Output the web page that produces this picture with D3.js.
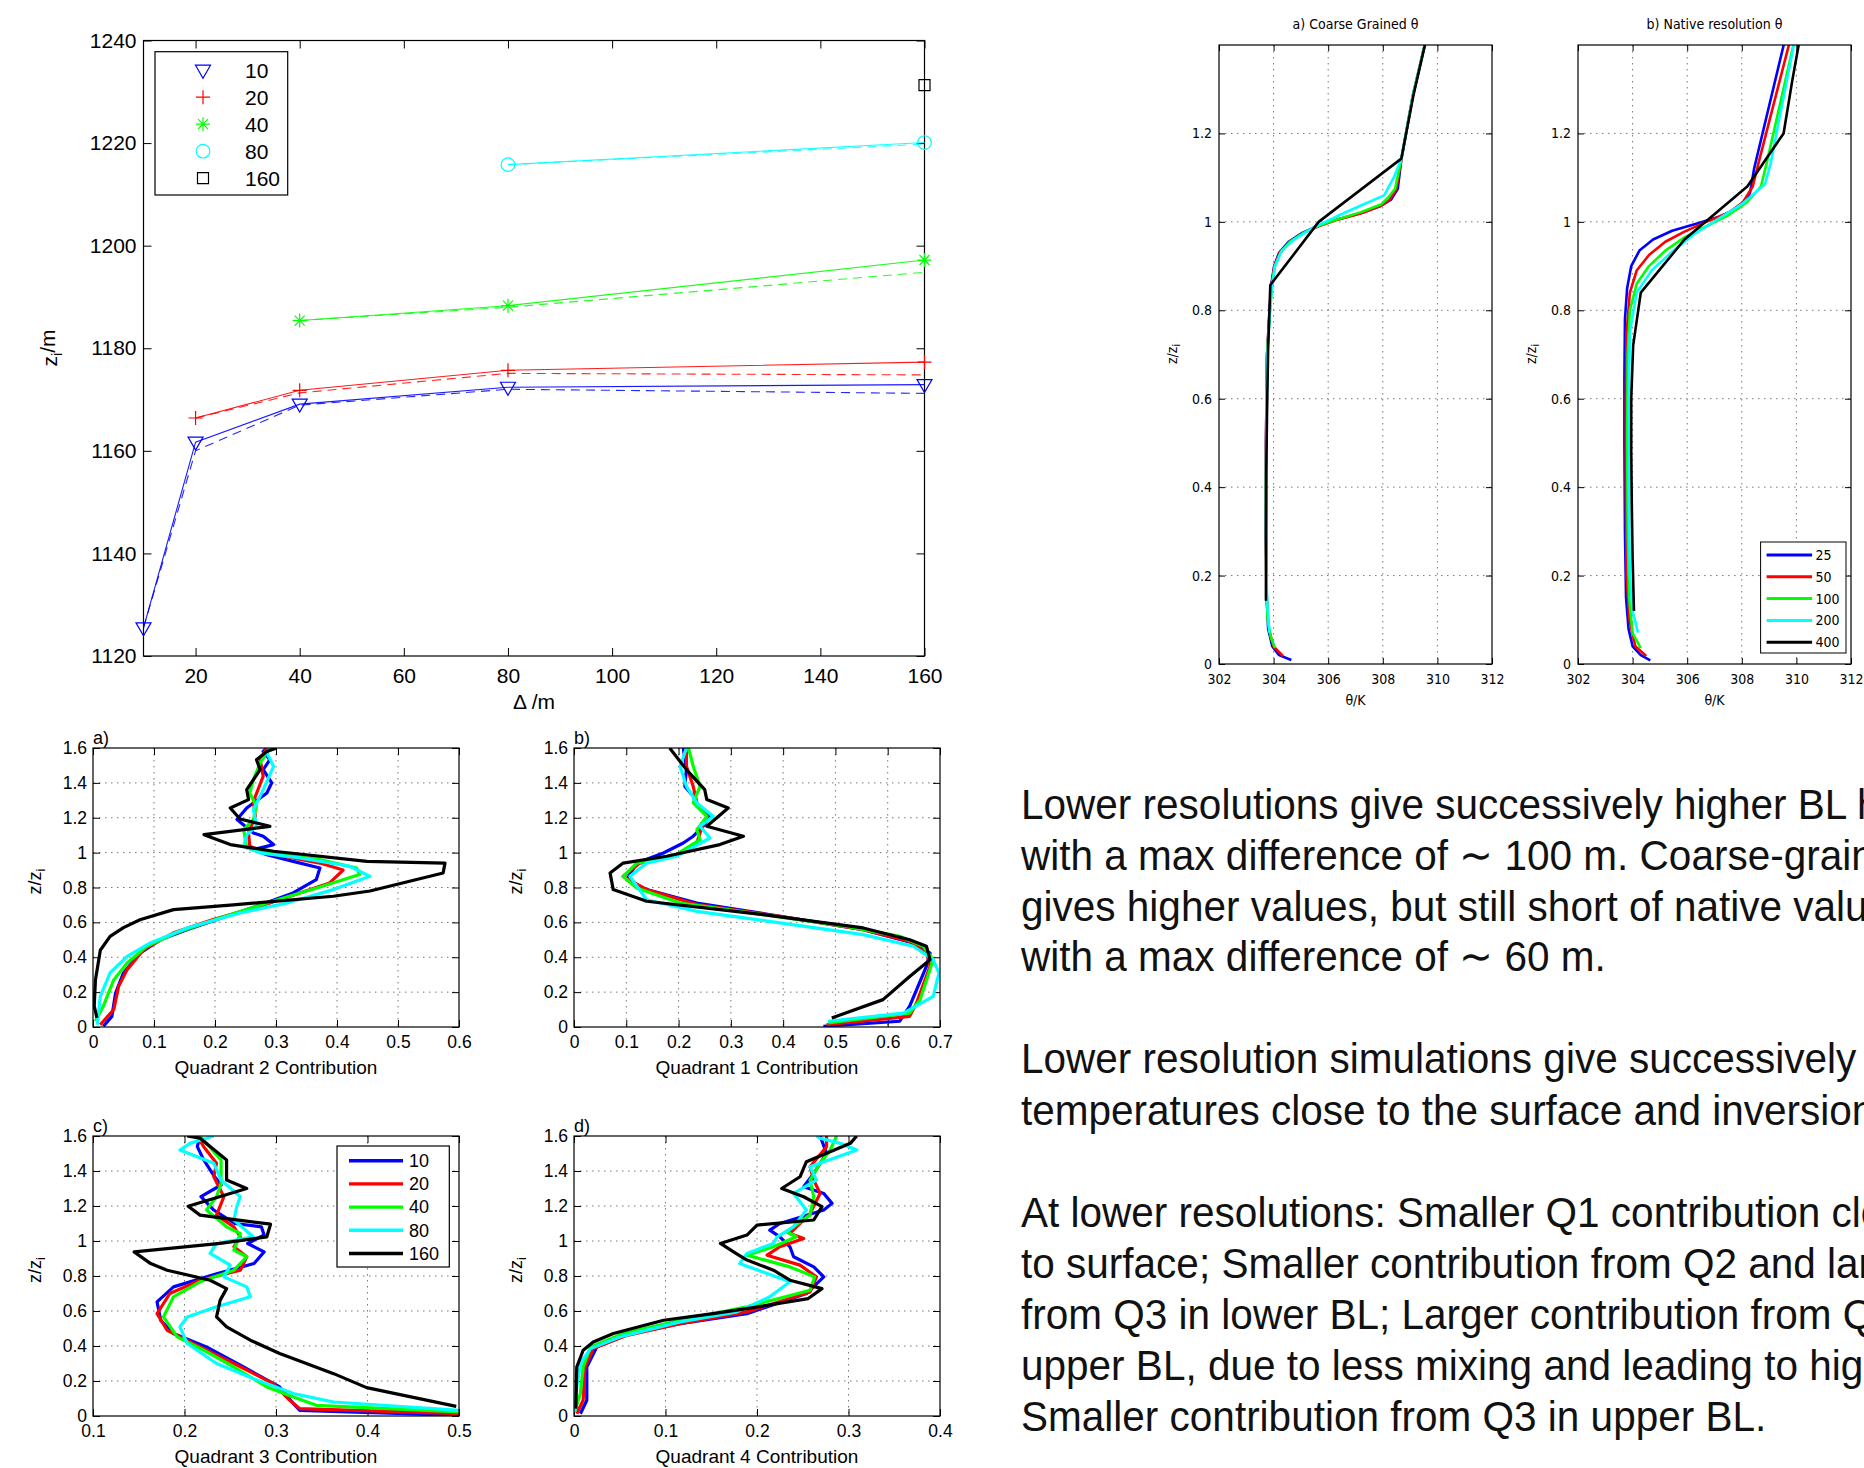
<!DOCTYPE html>
<html>
<head>
<meta charset="utf-8">
<script src="https://cdn.jsdelivr.net/npm/d3@7"></script>
<style>
  body { margin: 0; background: #fff; overflow: hidden; }
  svg { display: block; }
</style>
</head>
<body>
<script>
// ---------- data: BL height vs grid spacing (top left) ----------
const deltaTicks = [20, 40, 60, 80, 100, 120, 140, 160];
const ziTicks = [1120, 1140, 1160, 1180, 1200, 1220, 1240];
const runNames = ["10", "20", "40", "80", "160"];
const runColors = ["#0000ff", "#ff0000", "#00ff00", "#00ffff", "#000000"];
const runDeltas = [[10, 20, 40, 80, 160], [20, 40, 80, 160], [40, 80, 160], [80, 160], [160]];
const ziSolid = [
  [1125.5, 1161.7, 1169.1, 1172.4, 1172.9],
  [1166.4, 1171.8, 1175.7, 1177.3],
  [1185.4, 1188.3, 1197.2],
  [1215.8, 1220.1],
  [1231.3]
];
const ziDashed = [
  [1125.5, 1160.0, 1168.9, 1172.0, 1171.2],
  [1166.4, 1171.3, 1175.1, 1174.8],
  [1185.4, 1188.0, 1194.8],
  [1215.8, 1219.8],
  [1231.3]
];

// ---------- data: theta profiles (top right), [theta, z/zi] ----------
const thetaTicks = [302, 304, 306, 308, 310, 312];
const zTicksTheta = [0, 0.2, 0.4, 0.6, 0.8, 1, 1.2];
const thetaNames = ["25", "50", "100", "200", "400"];
const cg25 = [[304.65,0.009],[304.2,0.02],[303.95,0.04],[303.8,0.08],[303.75,0.15],[303.72,0.3],[303.72,0.5],[303.76,0.7],[303.85,0.8],[303.92,0.86],[304.02,0.9],[304.2,0.93],[304.55,0.955],[305.05,0.975],[305.6,0.99],[306.3,1.005],[307.2,1.02],[307.9,1.035],[308.3,1.05],[308.55,1.075],[308.68,1.142],[309.1,1.285],[309.65,1.43]];
const cg50 = [[304.35,0.018],[304.0,0.04],[303.82,0.08],[303.74,0.15],[303.72,0.3],[303.72,0.5],[303.76,0.7],[303.86,0.8],[303.93,0.86],[304.03,0.9],[304.22,0.93],[304.58,0.955],[305.1,0.975],[305.65,0.99],[306.35,1.005],[307.25,1.02],[307.95,1.037],[308.25,1.05],[308.5,1.075],[308.68,1.142],[309.1,1.285],[309.65,1.43]];
const cg100 = [[304.05,0.036],[303.9,0.06],[303.78,0.1],[303.73,0.2],[303.72,0.4],[303.74,0.6],[303.78,0.72],[303.87,0.8],[303.95,0.86],[304.05,0.9],[304.25,0.93],[304.6,0.955],[305.1,0.975],[305.6,0.99],[306.3,1.005],[307.2,1.022],[307.95,1.04],[308.2,1.055],[308.45,1.075],[308.68,1.142],[309.1,1.285],[309.65,1.43]];
const cg200 = [[303.85,0.071],[303.76,0.14],[303.72,0.3],[303.73,0.5],[303.77,0.7],[303.87,0.8],[303.95,0.86],[304.05,0.9],[304.3,0.935],[304.75,0.96],[305.4,0.985],[306.3,1.012],[307.2,1.037],[308.05,1.06],[308.4,1.1],[308.68,1.142],[309.1,1.285],[309.65,1.43]];
const cg400 = [[303.72,0.143],[303.72,0.286],[303.73,0.429],[303.76,0.571],[303.8,0.714],[303.88,0.857],[305.65,1.0],[308.68,1.143],[309.12,1.286],[309.65,1.429]];
const nat25 = [[304.65,0.008],[304.3,0.02],[304.0,0.04],[303.85,0.08],[303.76,0.15],[303.72,0.3],[303.7,0.5],[303.7,0.65],[303.72,0.78],[303.8,0.85],[303.95,0.9],[304.25,0.935],[304.75,0.96],[305.45,0.98],[306.3,0.995],[307.2,1.012],[307.9,1.032],[308.3,1.065],[308.45,1.12],[309.65,1.43]];
const nat50 = [[304.5,0.018],[304.1,0.04],[303.88,0.1],[303.78,0.2],[303.75,0.4],[303.75,0.6],[303.78,0.75],[303.9,0.84],[304.15,0.89],[304.6,0.925],[305.2,0.955],[305.9,0.978],[306.7,1.0],[307.5,1.02],[308.05,1.045],[308.4,1.08],[308.6,1.13],[309.85,1.43]];
const nat100 = [[304.3,0.036],[304.0,0.07],[303.87,0.15],[303.82,0.3],[303.8,0.5],[303.82,0.7],[303.9,0.8],[304.15,0.86],[304.6,0.9],[305.2,0.935],[305.9,0.965],[306.7,0.99],[307.5,1.015],[308.2,1.045],[308.7,1.08],[308.9,1.13],[310.0,1.43]];
const nat200 = [[304.2,0.071],[304.0,0.12],[303.9,0.2],[303.86,0.4],[303.86,0.6],[303.9,0.75],[304.15,0.84],[304.7,0.89],[305.4,0.93],[306.2,0.97],[307.1,1.005],[308.0,1.04],[308.85,1.085],[309.05,1.13],[310.0,1.43]];
const nat400 = [[304.05,0.12],[304.0,0.24],[303.97,0.36],[303.95,0.48],[303.95,0.6],[304.02,0.72],[304.3,0.84],[305.9,0.96],[308.2,1.08],[309.53,1.2],[309.85,1.32],[310.2,1.44]];

// ---------- data: quadrant contributions, [value, z/zi] ----------
const zTicksQ = [0, 0.2, 0.4, 0.6, 0.8, 1, 1.2, 1.4, 1.6];
const q2Ticks = [0, 0.1, 0.2, 0.3, 0.4, 0.5, 0.6];
const q1Ticks = [0, 0.1, 0.2, 0.3, 0.4, 0.5, 0.6, 0.7];
const q3Ticks = [0.1, 0.2, 0.3, 0.4, 0.5];
const q4Ticks = [0, 0.1, 0.2, 0.3, 0.4];
const quadNames = ["10", "20", "40", "80", "160"];

const q2_10 = [[0.017,0.004],[0.031,0.061],[0.037,0.195],[0.05,0.31],[0.077,0.424],[0.11,0.5],[0.154,0.558],[0.219,0.635],[0.274,0.7],[0.328,0.769],[0.366,0.845],[0.372,0.912],[0.328,0.95],[0.285,0.988],[0.263,1.017],[0.296,1.046],[0.279,1.094],[0.263,1.113],[0.236,1.19],[0.252,1.256],[0.285,1.342],[0.293,1.4],[0.279,1.476],[0.29,1.533],[0.279,1.58],[0.285,1.6]];
const q2_20 = [[0.012,0.013],[0.034,0.1],[0.042,0.233],[0.056,0.329],[0.083,0.444],[0.132,0.54],[0.197,0.616],[0.274,0.692],[0.339,0.769],[0.388,0.826],[0.41,0.9],[0.372,0.94],[0.285,0.998],[0.257,1.036],[0.255,1.113],[0.266,1.208],[0.263,1.294],[0.279,1.438],[0.274,1.533],[0.285,1.6]];
const q2_40 = [[0.004,0.033],[0.017,0.12],[0.034,0.27],[0.056,0.367],[0.088,0.463],[0.137,0.54],[0.208,0.625],[0.285,0.711],[0.367,0.797],[0.437,0.874],[0.432,0.912],[0.372,0.96],[0.285,0.998],[0.252,1.027],[0.247,1.132],[0.263,1.19],[0.268,1.266],[0.257,1.342],[0.263,1.419],[0.274,1.514],[0.29,1.6]];
const q2_80 = [[0.007,0.013],[0.012,0.176],[0.028,0.31],[0.056,0.405],[0.094,0.482],[0.154,0.568],[0.241,0.654],[0.318,0.711],[0.394,0.788],[0.454,0.864],[0.421,0.922],[0.339,0.97],[0.274,0.998],[0.247,1.036],[0.252,1.103],[0.268,1.151],[0.263,1.247],[0.279,1.361],[0.296,1.495],[0.285,1.572],[0.29,1.6]];
const q2_160 = [[0.0065,0.052],[0.002,0.12],[0.004,0.27],[0.012,0.44],[0.028,0.52],[0.05,0.57],[0.077,0.615],[0.132,0.673],[0.23,0.7],[0.394,0.75],[0.454,0.78],[0.574,0.883],[0.577,0.94],[0.449,0.95],[0.296,1.008],[0.225,1.046],[0.182,1.103],[0.29,1.151],[0.241,1.193],[0.225,1.256],[0.255,1.304],[0.252,1.361],[0.274,1.476],[0.268,1.533],[0.285,1.58],[0.301,1.6]];

const q1_10 = [[0.477,0.004],[0.623,0.033],[0.642,0.12],[0.674,0.348],[0.681,0.424],[0.649,0.482],[0.553,0.558],[0.394,0.635],[0.235,0.711],[0.139,0.788],[0.101,0.845],[0.12,0.94],[0.171,0.998],[0.209,1.055],[0.228,1.094],[0.247,1.151],[0.26,1.208],[0.235,1.266],[0.228,1.323],[0.212,1.38],[0.215,1.476],[0.209,1.6]];
const q1_20 = [[0.483,0.013],[0.642,0.061],[0.655,0.138],[0.681,0.348],[0.674,0.424],[0.642,0.491],[0.553,0.558],[0.394,0.635],[0.235,0.702],[0.139,0.788],[0.094,0.864],[0.126,0.94],[0.19,0.979],[0.235,1.055],[0.241,1.113],[0.254,1.208],[0.235,1.285],[0.228,1.38],[0.215,1.495],[0.215,1.6]];
const q1_40 = [[0.486,0.023],[0.642,0.08],[0.662,0.157],[0.687,0.386],[0.668,0.463],[0.623,0.52],[0.521,0.577],[0.362,0.644],[0.203,0.711],[0.12,0.797],[0.094,0.864],[0.12,0.94],[0.19,0.979],[0.241,1.074],[0.235,1.132],[0.254,1.208],[0.228,1.285],[0.241,1.38],[0.228,1.495],[0.219,1.6]];
const q1_80 = [[0.486,0.033],[0.63,0.08],[0.687,0.176],[0.698,0.31],[0.687,0.386],[0.649,0.463],[0.553,0.53],[0.394,0.597],[0.235,0.663],[0.139,0.73],[0.107,0.864],[0.139,0.94],[0.196,0.979],[0.26,1.084],[0.241,1.151],[0.266,1.208],[0.235,1.285],[0.215,1.38],[0.203,1.495],[0.215,1.6]];
const q1_160 = [[0.493,0.052],[0.591,0.157],[0.642,0.29],[0.681,0.386],[0.674,0.463],[0.642,0.5],[0.553,0.568],[0.362,0.644],[0.139,0.721],[0.075,0.788],[0.069,0.883],[0.094,0.94],[0.177,0.979],[0.279,1.046],[0.324,1.094],[0.254,1.151],[0.295,1.256],[0.254,1.304],[0.25,1.361],[0.215,1.476],[0.183,1.6]];

const q3_10 = [[0.5,0.004],[0.326,0.032],[0.319,0.071],[0.304,0.166],[0.261,0.29],[0.224,0.395],[0.188,0.471],[0.174,0.547],[0.17,0.652],[0.188,0.738],[0.236,0.814],[0.276,0.871],[0.287,0.938],[0.269,0.986],[0.287,1.034],[0.284,1.081],[0.255,1.1],[0.232,1.177],[0.218,1.253],[0.24,1.32],[0.233,1.367],[0.221,1.463],[0.214,1.539],[0.217,1.6]];
const q3_20 = [[0.5,0.013],[0.326,0.042],[0.315,0.09],[0.297,0.185],[0.254,0.3],[0.217,0.395],[0.181,0.49],[0.17,0.585],[0.184,0.7],[0.217,0.776],[0.261,0.833],[0.268,0.91],[0.254,0.967],[0.261,1.024],[0.254,1.081],[0.235,1.148],[0.243,1.253],[0.232,1.367],[0.235,1.444],[0.221,1.539],[0.214,1.6]];
const q3_40 = [[0.5,0.023],[0.344,0.061],[0.319,0.109],[0.29,0.166],[0.254,0.28],[0.221,0.376],[0.192,0.452],[0.177,0.566],[0.188,0.681],[0.217,0.767],[0.254,0.833],[0.268,0.91],[0.254,0.948],[0.261,1.043],[0.246,1.081],[0.224,1.177],[0.235,1.253],[0.24,1.329],[0.24,1.463],[0.224,1.558],[0.217,1.6]];
const q3_80 = [[0.5,0.032],[0.363,0.08],[0.319,0.128],[0.275,0.214],[0.235,0.3],[0.203,0.414],[0.195,0.509],[0.203,0.566],[0.235,0.624],[0.272,0.681],[0.268,0.738],[0.243,0.795],[0.25,0.862],[0.228,0.929],[0.235,0.986],[0.275,1.024],[0.254,1.12],[0.257,1.196],[0.261,1.253],[0.24,1.348],[0.232,1.444],[0.195,1.52],[0.206,1.558],[0.224,1.587],[0.232,1.6]];
const q3_160 = [[0.497,0.055],[0.399,0.162],[0.363,0.242],[0.304,0.357],[0.272,0.433],[0.246,0.509],[0.235,0.566],[0.239,0.662],[0.246,0.728],[0.228,0.776],[0.181,0.833],[0.163,0.871],[0.145,0.938],[0.239,0.986],[0.29,1.024],[0.294,1.096],[0.217,1.148],[0.204,1.199],[0.268,1.3],[0.246,1.348],[0.246,1.463],[0.217,1.587],[0.203,1.6]];

const q4_10 = [[0.007,0.013],[0.014,0.09],[0.014,0.28],[0.025,0.395],[0.061,0.471],[0.116,0.528],[0.189,0.585],[0.254,0.7],[0.273,0.795],[0.262,0.852],[0.24,0.91],[0.236,0.967],[0.225,1.024],[0.214,1.062],[0.225,1.1],[0.273,1.177],[0.282,1.215],[0.273,1.272],[0.251,1.31],[0.262,1.386],[0.276,1.501],[0.269,1.6]];
const q4_20 = [[0.003,0.013],[0.01,0.09],[0.012,0.28],[0.021,0.385],[0.058,0.461],[0.116,0.528],[0.189,0.595],[0.258,0.709],[0.265,0.795],[0.247,0.862],[0.211,0.919],[0.225,0.967],[0.251,1.014],[0.236,1.043],[0.258,1.157],[0.269,1.272],[0.262,1.348],[0.258,1.424],[0.276,1.539],[0.276,1.6]];
const q4_40 = [[0.001,0.032],[0.007,0.128],[0.01,0.28],[0.018,0.395],[0.054,0.471],[0.116,0.547],[0.189,0.624],[0.258,0.719],[0.263,0.795],[0.236,0.852],[0.189,0.919],[0.218,0.967],[0.243,1.024],[0.232,1.053],[0.258,1.148],[0.262,1.253],[0.258,1.348],[0.269,1.444],[0.28,1.52],[0.287,1.6]];
const q4_80 = [[0.001,0.023],[0.003,0.166],[0.007,0.3],[0.018,0.385],[0.05,0.452],[0.116,0.538],[0.178,0.595],[0.214,0.681],[0.236,0.767],[0.181,0.871],[0.189,0.929],[0.218,0.986],[0.222,1.024],[0.24,1.081],[0.254,1.177],[0.24,1.272],[0.265,1.348],[0.258,1.424],[0.309,1.52],[0.291,1.558],[0.269,1.587],[0.265,1.6]];
const q4_160 = [[0.002,0.042],[0.003,0.28],[0.01,0.376],[0.021,0.423],[0.043,0.471],[0.098,0.547],[0.152,0.585],[0.189,0.614],[0.256,0.671],[0.271,0.728],[0.236,0.776],[0.218,0.833],[0.189,0.891],[0.177,0.929],[0.16,0.986],[0.189,1.034],[0.2,1.091],[0.262,1.12],[0.271,1.196],[0.251,1.253],[0.227,1.3],[0.247,1.367],[0.254,1.453],[0.302,1.558],[0.309,1.6]];

const noteLines = [
  "Lower resolutions give successively higher BL heights",
  "with a max difference of \u223C 100 m. Coarse-graining",
  "gives higher values, but still short of native values",
  "with a max difference of \u223C 60 m.",
  "Lower resolution simulations give successively higher",
  "temperatures close to the surface and inversion.",
  "At lower resolutions: Smaller Q1 contribution close",
  "to surface; Smaller contribution from Q2 and larger",
  "from Q3 in lower BL; Larger contribution from Q4 in",
  "upper BL, due to less mixing and leading to higher \u03B8;",
  "Smaller contribution from Q3 in upper BL."
];

// ---------- drawing ----------
const W = 1864, H = 1468;
const svg = d3.select("body").append("svg").attr("width", W).attr("height", H);
const defs = svg.append("defs");
const SANS = "'Liberation Sans', Arial, sans-serif";
const NARROW = "'Liberation Sans Narrow', 'DejaVu Sans Condensed', 'Liberation Sans', sans-serif";
let clipCount = 0;

// MATLAB-like axes box: inward ticks on all four sides, optional dotted grid
function makePanel(box, xDom, yDom, opt) {
  const w = box.x1 - box.x0, h = box.y1 - box.y0;
  const g = svg.append("g").attr("transform", `translate(${box.x0},${box.y0})`);
  const x = d3.scaleLinear().domain(xDom).range([0, w]);
  const y = d3.scaleLinear().domain(yDom).range([h, 0]);
  const fmt = d3.format("~g");

  if (opt.grid) {
    g.selectAll(".gx").data(opt.xTicks.filter(d => x(d) > 1 && x(d) < w - 1)).join("line")
      .attr("x1", d => x(d)).attr("x2", d => x(d)).attr("y1", 0).attr("y2", h)
      .attr("stroke", "#777").attr("stroke-width", 1).attr("stroke-dasharray", "1.5,4.5");
    g.selectAll(".gy").data(opt.yTicks.filter(d => y(d) > 1 && y(d) < h - 1)).join("line")
      .attr("x1", 0).attr("x2", w).attr("y1", d => y(d)).attr("y2", d => y(d))
      .attr("stroke", "#777").attr("stroke-width", 1).attr("stroke-dasharray", "1.5,4.5");
  }

  const axes = [
    g.append("g").attr("transform", `translate(0,${h})`)
      .call(d3.axisBottom(x).tickValues(opt.xTicks).tickSize(-opt.tick).tickPadding(opt.xPad).tickFormat(fmt)),
    g.append("g").call(d3.axisTop(x).tickValues(opt.xTicks).tickSize(-opt.tick).tickFormat("")),
    g.append("g").call(d3.axisLeft(y).tickValues(opt.yTicks).tickSize(-opt.tick).tickPadding(opt.yPad).tickFormat(fmt)),
    g.append("g").attr("transform", `translate(${w},0)`)
      .call(d3.axisRight(y).tickValues(opt.yTicks).tickSize(-opt.tick).tickFormat(""))
  ];
  axes.forEach(a => {
    a.attr("font-size", opt.fontSize).attr("font-family", opt.font);
    a.select(".domain").remove();
    a.selectAll(".tick line").attr("stroke", "#000");
    a.selectAll(".tick text").attr("fill", "#000");
  });

  const id = "clip" + (clipCount++);
  defs.append("clipPath").attr("id", id).append("rect").attr("width", w).attr("height", h);
  const plot = g.append("g").attr("clip-path", `url(#${id})`);

  g.append("rect").attr("width", w).attr("height", h)
    .attr("fill", "none").attr("stroke", "#000").attr("stroke-width", 1.2);

  return { g, plot, x, y, w, h };
}

function drawProfiles(p, seriesList, colors, width) {
  const line = d3.line().x(d => p.x(d[0])).y(d => p.y(d[1]));
  seriesList.forEach((s, i) => {
    p.plot.append("path").datum(s).attr("d", line)
      .attr("fill", "none").attr("stroke", colors[i]).attr("stroke-width", width)
      .attr("stroke-linejoin", "round").attr("stroke-linecap", "butt");
  });
}

function zLabel(g, x, y, size, parts) {
  const t = g.append("text").attr("transform", `translate(${x},${y}) rotate(-90)`)
    .attr("text-anchor", "middle").attr("font-family", SANS).attr("font-size", size);
  t.append("tspan").text(parts[0]);
  t.append("tspan").attr("dy", "0.3em").attr("font-size", size * 0.72).text("i");
  if (parts[1]) t.append("tspan").attr("dy", "-0.3em").text(parts[1]);
  return t;
}

// marker shapes for the z_i plot
const markerPaths = [
  "M-7.5,-5L7.5,-5L0,8Z",
  "M-7,0H7M0,-7V7",
  "M-7,0H7M0,-7V7M-5,-5L5,5M-5,5L5,-5",
  null,
  "M-5.5,-5.5H5.5V5.5H-5.5Z"
];
function drawMarker(g, i, cx, cy) {
  if (i === 3) {
    g.append("circle").attr("cx", cx).attr("cy", cy).attr("r", 6.8)
      .attr("fill", "none").attr("stroke", runColors[i]).attr("stroke-width", 1.2);
  } else {
    g.append("path").attr("d", markerPaths[i]).attr("transform", `translate(${cx},${cy})`)
      .attr("fill", "none").attr("stroke", runColors[i]).attr("stroke-width", 1.2);
  }
}

// ---- top left: z_i vs Delta ----
const tl = makePanel({ x0: 143.5, x1: 924.5, y0: 40.5, y1: 656 }, [10, 160], [1120, 1240], {
  xTicks: deltaTicks, yTicks: ziTicks, tick: 8, xPad: 12, yPad: 7, fontSize: 21, font: SANS, grid: false
});
{
  const lineFor = i => d3.line().x((d, k) => tl.x(runDeltas[i][k])).y(d => tl.y(d));
  ziDashed.forEach((vals, i) => {
    if (vals.length < 2) return;
    tl.g.append("path").datum(vals).attr("d", lineFor(i)).attr("fill", "none")
      .attr("stroke", runColors[i]).attr("stroke-width", 1.1).attr("stroke-dasharray", "9,6").attr("opacity", 0.85);
  });
  ziSolid.forEach((vals, i) => {
    if (vals.length >= 2) {
      tl.g.append("path").datum(vals).attr("d", lineFor(i)).attr("fill", "none")
        .attr("stroke", runColors[i]).attr("stroke-width", 1.1).attr("opacity", 0.9);
    }
    vals.forEach((v, k) => drawMarker(tl.g, i, tl.x(runDeltas[i][k]), tl.y(v)));
  });
  // legend
  const lg = svg.append("g").attr("transform", "translate(155,51.7)");
  lg.append("rect").attr("width", 132.7).attr("height", 143.3).attr("fill", "#fff").attr("stroke", "#000").attr("stroke-width", 1.2);
  runNames.forEach((n, i) => {
    const cy = 18.5 + i * 27;
    drawMarker(lg, i, 48, cy);
    lg.append("text").attr("x", 90).attr("y", cy).attr("dy", "0.35em")
      .attr("font-family", SANS).attr("font-size", 21).text(n);
  });
  zLabel(svg, 57, 348, 21, ["z", "/m"]);
  svg.append("text").attr("x", 534).attr("y", 709).attr("text-anchor", "middle")
    .attr("font-family", SANS).attr("font-size", 21).text("\u0394 /m");
}

// ---- top right: theta profiles ----
const thetaColors = runColors;
const thetaOpt = { xTicks: thetaTicks, yTicks: zTicksTheta, tick: 6, xPad: 10, yPad: 7, fontSize: 14, font: NARROW, grid: true };
const ta = makePanel({ x0: 1219, x1: 1492, y0: 45, y1: 664 }, [302, 312], [0, 1.4], thetaOpt);
drawProfiles(ta, [cg25, cg50, cg100, cg200, cg400], thetaColors, 2.6);
const tb = makePanel({ x0: 1578, x1: 1851, y0: 45, y1: 664 }, [302, 312], [0, 1.4], thetaOpt);
drawProfiles(tb, [nat25, nat50, nat100, nat200, nat400], thetaColors, 2.6);
[[ta, "a) Coarse Grained \u03B8", 1177], [tb, "b) Native resolution \u03B8", 1536]].forEach(([p, title, lx]) => {
  p.g.append("text").attr("x", p.w / 2).attr("y", -16).attr("text-anchor", "middle")
    .attr("font-family", NARROW).attr("font-size", 14).text(title);
  p.g.append("text").attr("x", p.w / 2).attr("y", p.h + 41).attr("text-anchor", "middle")
    .attr("font-family", NARROW).attr("font-size", 14).text("\u03B8/K");
  zLabel(svg, lx, 354, 14, ["z/z"]).attr("font-family", NARROW);
});
{
  const lg = svg.append("g").attr("transform", "translate(1760.6,542)");
  lg.append("rect").attr("width", 85.4).attr("height", 111).attr("fill", "#fff").attr("stroke", "#000").attr("stroke-width", 1);
  thetaNames.forEach((n, i) => {
    const cy = 13 + i * 21.8;
    lg.append("line").attr("x1", 6).attr("x2", 51.5).attr("y1", cy).attr("y2", cy)
      .attr("stroke", thetaColors[i]).attr("stroke-width", 3);
    lg.append("text").attr("x", 55).attr("y", cy).attr("dy", "0.35em")
      .attr("font-family", NARROW).attr("font-size", 14).text(n);
  });
}

// ---- bottom left: quadrant contributions ----
const quadPanels = [
  { box: { x0: 93, x1: 459, y0: 748, y1: 1027 }, dom: [0, 0.6], ticks: q2Ticks, data: [q2_10, q2_20, q2_40, q2_80, q2_160], tag: "a)", label: "Quadrant 2 Contribution" },
  { box: { x0: 574, x1: 940, y0: 748, y1: 1027 }, dom: [0, 0.7], ticks: q1Ticks, data: [q1_10, q1_20, q1_40, q1_80, q1_160], tag: "b)", label: "Quadrant 1 Contribution" },
  { box: { x0: 93, x1: 459, y0: 1136, y1: 1416 }, dom: [0.1, 0.5], ticks: q3Ticks, data: [q3_10, q3_20, q3_40, q3_80, q3_160], tag: "c)", label: "Quadrant 3 Contribution" },
  { box: { x0: 574, x1: 940, y0: 1136, y1: 1416 }, dom: [0, 0.4], ticks: q4Ticks, data: [q4_10, q4_20, q4_40, q4_80, q4_160], tag: "d)", label: "Quadrant 4 Contribution" }
];
quadPanels.forEach(q => {
  const p = makePanel(q.box, q.dom, [0, 1.6], {
    xTicks: q.ticks, yTicks: zTicksQ, tick: 7, xPad: 9, yPad: 6, fontSize: 17.5, font: SANS, grid: true
  });
  drawProfiles(p, q.data, runColors, 3.2);
  p.g.append("text").attr("x", 0).attr("y", -4).attr("font-family", SANS).attr("font-size", 18).text(q.tag);
  p.g.append("text").attr("x", p.w / 2).attr("y", p.h + 47).attr("text-anchor", "middle")
    .attr("font-family", SANS).attr("font-size", 19).text(q.label);
  zLabel(svg, q.box.x0 - 52, (q.box.y0 + q.box.y1) / 2 - 6, 18, ["z/z"]);
});
{
  const lg = svg.append("g").attr("transform", "translate(337,1146)");
  lg.append("rect").attr("width", 112.3).attr("height", 121).attr("fill", "#fff").attr("stroke", "#000").attr("stroke-width", 1.2);
  quadNames.forEach((n, i) => {
    const cy = 14.7 + i * 23.2;
    lg.append("line").attr("x1", 12).attr("x2", 66).attr("y1", cy).attr("y2", cy)
      .attr("stroke", runColors[i]).attr("stroke-width", 3.4);
    lg.append("text").attr("x", 72).attr("y", cy).attr("dy", "0.35em")
      .attr("font-family", SANS).attr("font-size", 18).text(n);
  });
}

// ---- notes on the right ----
const noteY = [819, 870, 921, 971, 1073, 1125, 1227, 1278, 1329, 1380, 1431];
const note = svg.append("g");
const noteText = note.selectAll("text").data(noteLines).join("text")
  .attr("x", 0).attr("y", (d, i) => noteY[i])
  .attr("font-family", "'Liberation Sans Narrow', 'Liberation Sans', Arial, sans-serif").attr("font-size", 43)
  .attr("fill", "#111").text(d => d);
const refW = noteText.filter((d, i) => i === 3).node().getComputedTextLength();
note.attr("transform", `translate(1021,0) scale(${585 / refW},1)`);
</script>
</body>
</html>
